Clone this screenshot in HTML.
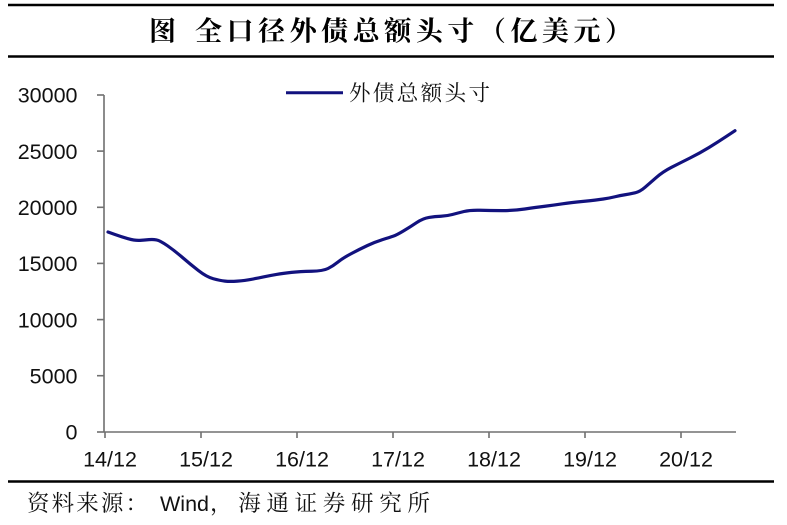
<!DOCTYPE html>
<html>
<head>
<meta charset="utf-8">
<style>
  html, body { margin:0; padding:0; background:#fff; }
  body { width:787px; height:525px; overflow:hidden; }
  svg { display:block; }
</style>
</head>
<body>
<svg width="787" height="525" viewBox="0 0 787 525" xmlns="http://www.w3.org/2000/svg">
  <rect width="787" height="525" fill="#fff"/>
  <!-- title rules -->
  <line x1="8" y1="5" x2="774" y2="5" stroke="#000" stroke-width="2.5"/>
  <line x1="8" y1="56.5" x2="774" y2="56.5" stroke="#000" stroke-width="2.5"/>
  <!-- title -->
  <text x="149" y="40.5" font-family="'Noto Serif CJK SC', 'Noto Sans CJK SC', serif" font-weight="700" font-size="27" fill="#000">图</text>
  <text x="195" y="40.5" font-family="'Noto Serif CJK SC', 'Noto Sans CJK SC', serif" font-weight="700" font-size="27" fill="#000" textLength="437" lengthAdjust="spacing">全口径外债总额头寸（亿美元）</text>

  <!-- legend -->
  <line x1="286" y1="92.7" x2="343" y2="92.7" stroke="#12127e" stroke-width="3"/>
  <text x="349" y="100.5" font-family="'Noto Serif CJK SC', serif" font-size="21.5" fill="#111" textLength="141" lengthAdjust="spacing">外债总额头寸</text>

  <!-- axes -->
  <g stroke="#707070" stroke-width="1.6" fill="none">
    <line x1="104" y1="95" x2="104" y2="432"/>
    <line x1="97" y1="95" x2="104" y2="95"/>
    <line x1="97" y1="151.1" x2="104" y2="151.1"/>
    <line x1="97" y1="207.3" x2="104" y2="207.3"/>
    <line x1="97" y1="263.4" x2="104" y2="263.4"/>
    <line x1="97" y1="319.6" x2="104" y2="319.6"/>
    <line x1="97" y1="375.7" x2="104" y2="375.7"/>
    <line x1="97" y1="432" x2="104" y2="432"/>
    <line x1="104" y1="432" x2="736" y2="432"/>
    <line x1="105" y1="432" x2="105" y2="438"/>
    <line x1="201" y1="432" x2="201" y2="438"/>
    <line x1="297" y1="432" x2="297" y2="438"/>
    <line x1="393" y1="432" x2="393" y2="438"/>
    <line x1="489" y1="432" x2="489" y2="438"/>
    <line x1="585" y1="432" x2="585" y2="438"/>
    <line x1="681" y1="432" x2="681" y2="438"/>
  </g>

  <!-- y labels -->
  <g font-family="'Liberation Sans', Arial, sans-serif" font-size="21.5" fill="#111" text-anchor="end">
    <text x="77.5" y="102.7">30000</text>
    <text x="77.5" y="158.8">25000</text>
    <text x="77.5" y="215">20000</text>
    <text x="77.5" y="271.1">15000</text>
    <text x="77.5" y="327.3">10000</text>
    <text x="77.5" y="383.4">5000</text>
    <text x="77.5" y="439.6">0</text>
  </g>
  <!-- x labels -->
  <g font-family="'Liberation Sans', Arial, sans-serif" font-size="21.5" fill="#111" text-anchor="middle">
    <text x="110" y="466.5">14/12</text>
    <text x="206" y="466.5">15/12</text>
    <text x="302" y="466.5">16/12</text>
    <text x="398" y="466.5">17/12</text>
    <text x="494" y="466.5">18/12</text>
    <text x="590" y="466.5">19/12</text>
    <text x="686" y="466.5">20/12</text>
  </g>

  <!-- series -->
  <path fill="none" stroke="#12127e" stroke-width="3.2" stroke-linejoin="round" stroke-linecap="round"
    d="M108,232 L115,234.5 Q122,237 128.5,238.85 Q135,240.7 140,240.35 Q145,240 149,239.65 Q153,239.3 156.5,239.9 Q160,240.5 167.5,245.75 Q175,251 182.5,257.5 Q190,264 198.35,270.5 Q206.7,277 213.35,278.75 Q220,280.5 225,281.1 Q230,281.7 237.5,281.1 Q245,280.5 250.85,279.4 Q256.7,278.3 263.35,276.9 Q270,275.5 276.5,274.4 Q283,273.3 291.5,272.4 Q300,271.5 311.5,271.25 Q323,271 328,268.5 Q333,266 338,262 Q343,258 351.5,253.5 Q360,249 367.5,245.5 Q375,242 382.5,239.65 Q390,237.3 393.35,236.15 Q396.7,235 403.35,231 Q410,227 416.5,222.65 Q423,218.3 429,217.4 Q435,216.5 440.85,216.25 Q446.7,216 452.35,214.5 Q458,213 464,211.5 Q470,210 480,210.25 Q490,210.5 501.5,210.6 Q513,210.7 524.85,209 Q536.7,207.3 545.85,206.15 Q555,205 562.5,203.85 Q570,202.7 583.35,201.35 Q596.7,200 603.35,199 Q610,198 615,196.75 Q620,195.5 625,194.75 Q630,194 635,192.85 Q640,191.7 645,187.35 Q650,183 656.5,177.35 Q663,171.7 671.5,167.35 Q680,163 690,158 Q700,153 709,147.5 Q718,142 726.5,136.35 L735,130.7"/>

  <!-- bottom rule -->
  <line x1="8" y1="481.5" x2="774" y2="481.5" stroke="#000" stroke-width="2.5"/>
  <!-- source -->
  <text x="27" y="511" font-family="'Noto Serif CJK SC', serif" font-size="22.5" fill="#111" textLength="121" lengthAdjust="spacing">资料来源：</text>
  <text x="160" y="511" font-family="'Liberation Sans', Arial, sans-serif" font-size="21.5" fill="#111">Wind</text>
  <text x="210" y="511" font-family="'Noto Serif CJK SC', serif" font-size="22.5" fill="#111" textLength="220" lengthAdjust="spacing">，海通证券研究所</text>
</svg>
</body>
</html>
